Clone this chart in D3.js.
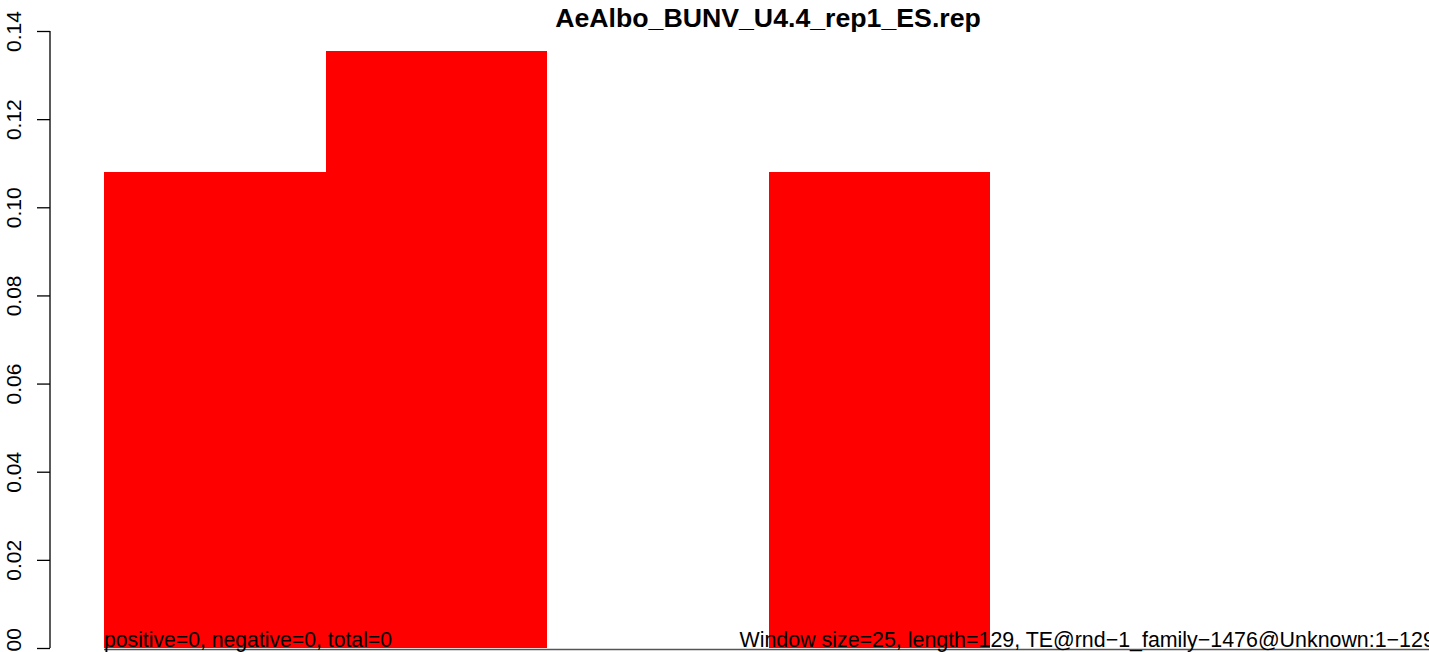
<!DOCTYPE html>
<html>
<head>
<meta charset="utf-8">
<script src="https://cdn.jsdelivr.net/npm/d3@7"></script>
<style>
html,body{margin:0;padding:0;background:#fff;overflow:hidden;}
svg{display:block;}
text{font-family:"Liberation Sans",Arial,Helvetica,sans-serif;}
</style>
</head>
<body>
<svg id="chart" width="1429" height="652"></svg>
<script>
const title = "AeAlbo_BUNV_U4.4_rep1_ES.rep";
const binStarts = [0, 25, 50, 75, 100, 125];
const binWidth = 25;
const seqLength = 129;
const values = [0.108, 0.1354, 0, 0.108, 0, 0];
const yTicks = [0, 0.02, 0.04, 0.06, 0.08, 0.10, 0.12, 0.14];
const leftNote = "positive=0, negative=0, total=0";
const rightNote = "Window size=25, length=129, TE@rnd\u22121_family\u22121476@Unknown:1\u2212129";

const svg = d3.select("#chart");
const x = d3.scaleLinear().domain([0, seqLength]).range([104, 104 + seqLength * 8.86]);
const y = d3.scaleLinear().domain([0, 0.14]).range([648, 31]);

// bars
svg.append("g").selectAll("rect").data(values).join("rect")
  .attr("x", (d, i) => x(binStarts[i]))
  .attr("width", (d, i) => x(Math.min(binStarts[i] + binWidth, seqLength)) - x(binStarts[i]))
  .attr("y", d => y(d))
  .attr("height", d => y(0) - y(d))
  .attr("fill", "#ff0000")
  .attr("shape-rendering", "crispEdges");

// baseline
svg.append("line")
  .attr("x1", x(0)).attr("x2", 1429)
  .attr("y1", y(0) + 1.5).attr("y2", y(0) + 1.5)
  .attr("stroke", "#555").attr("stroke-width", 1.5);

// y axis
const yAxis = d3.axisLeft(y).tickValues(yTicks).tickSize(13).tickPadding(0)
  .tickFormat(d3.format(".2f"));
const gy = svg.append("g").attr("transform", "translate(50,0)").call(yAxis);
gy.select(".domain").attr("stroke", "#000").attr("stroke-width", 1.3)
  .attr("d", `M0,${y(0.14)}V${y(0)}`);
gy.selectAll(".tick line").attr("stroke", "#000").attr("stroke-width", 1.3);
gy.selectAll(".tick text")
  .attr("font-size", 21).attr("fill", "#000")
  .attr("font-family", "Liberation Sans, Arial, sans-serif")
  .attr("transform", "rotate(-90)")
  .attr("x", 0).attr("y", -29)
  .attr("dy", 0)
  .attr("text-anchor", "middle");

// title
svg.append("text").attr("x", 768).attr("y", 27)
  .attr("text-anchor", "middle").attr("font-weight", "bold").attr("font-size", 26.7)
  .attr("fill", "#000").text(title);

// notes
svg.append("text").attr("x", x(0)).attr("y", 647)
  .attr("font-size", 21.2).attr("fill", "#000").text(leftNote);
svg.append("text").attr("x", 739.5).attr("y", 647)
  .attr("text-anchor", "start")
  .attr("font-size", 21.4).attr("fill", "#000").text(rightNote);
</script>
</body>
</html>
